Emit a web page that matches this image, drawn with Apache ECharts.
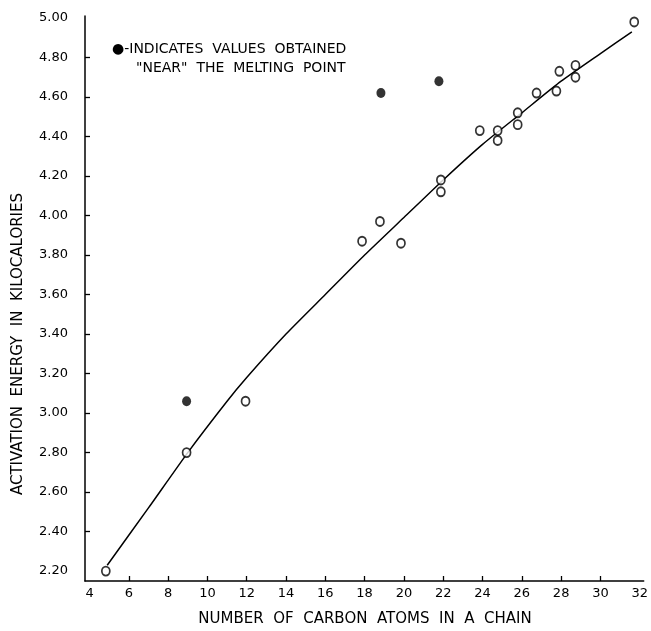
<!DOCTYPE html>
<html>
<head>
<meta charset="utf-8">
<script src="https://cdn.jsdelivr.net/npm/echarts@6/dist/echarts.min.js"></script>
<style>
  html, body { margin: 0; padding: 0; background: #fff; }
  #chart { width: 651px; height: 631px; }
</style>
</head>
<body>
<div id="chart"></div>
<script>
// 开口圆: 测得的活化能
const carbonOpen = [4.83, 8.94, 11.94, 17.87, 18.78, 19.85, 21.88, 21.88, 23.86, 24.77, 24.77, 25.79, 25.79, 26.75, 27.76, 27.91, 28.73, 28.73, 31.72];
const energyOpen = [2.20, 2.80, 3.06, 3.87, 3.97, 3.86, 4.18, 4.12, 4.43, 4.43, 4.38, 4.52, 4.46, 4.62, 4.63, 4.73, 4.76, 4.70, 4.98];

// 实心点: 熔点附近的值
const carbonNear = [8.94, 18.83, 21.78];
const energyNear = [3.06, 4.62, 4.68];

// 拟合曲线
const curveCarbon = [4.9, 7, 9, 11, 12, 14, 16, 18, 20, 22, 24, 26, 28, 30, 31.6];
const curveEnergy = [2.23, 2.52, 2.80, 3.06, 3.18, 3.40, 3.60, 3.80, 3.99, 4.18, 4.36, 4.52, 4.68, 4.82, 4.93];

// 刻度
const xTicks = [4, 6, 8, 10, 12, 14, 16, 18, 20, 22, 24, 26, 28, 30, 32];
const yTicks = [2.2, 2.4, 2.6, 2.8, 3.0, 3.2, 3.4, 3.6, 3.8, 4.0, 4.2, 4.4, 4.6, 4.8, 5.0];

const zip = (a, b) => a.map((v, i) => [v, b[i]]);
const font = 'DejaVu Sans';

let chart = echarts.init(document.getElementById('chart'));

let option = {
    backgroundColor: '#fff',
    animation: false,
    grid: { left: 85, right: 6, top: 16, bottom: 50 },
    xAxis: {
        type: 'value',
        min: 3.77,
        max: 32.2,
        splitLine: { show: false },
        axisLine: { lineStyle: { color: '#000', width: 1.5 } },
        axisTick: {
            inside: true, length: 5,
            customValues: xTicks.slice(1, -1),
            lineStyle: { color: '#000', width: 1.3 }
        },
        axisLabel: {
            customValues: xTicks,
            margin: 6,
            color: '#000',
            fontFamily: font,
            fontSize: 13
        }
    },
    yAxis: {
        type: 'value',
        min: 2.15,
        max: 5.01,
        splitLine: { show: false },
        axisLine: { show: true, lineStyle: { color: '#000', width: 1.5 } },
        axisTick: {
            show: true, inside: true, length: 5,
            customValues: yTicks.slice(1, -1),
            lineStyle: { color: '#000', width: 1.3 }
        },
        axisLabel: {
            customValues: yTicks,
            margin: 17,
            color: '#000',
            fontFamily: font,
            fontSize: 13,
            formatter: v => v.toFixed(2)
        }
    },
    graphic: [
        {
            type: 'text', left: 112, top: 42,
            style: { text: '●-INDICATES  VALUES  OBTAINED', font: '14px "DejaVu Sans"', fill: '#000' }
        },
        {
            type: 'text', left: 136, top: 61,
            style: { text: '"NEAR"  THE  MELTING  POINT', font: '14px "DejaVu Sans"', fill: '#000' }
        },
        {
            type: 'text', x: 365, y: 619,
            style: {
                text: 'NUMBER  OF  CARBON  ATOMS  IN  A  CHAIN',
                font: '15px "DejaVu Sans"', fill: '#000',
                align: 'center', verticalAlign: 'middle'
            }
        },
        {
            type: 'text', x: 18, y: 344, rotation: Math.PI / 2,
            style: {
                text: 'ACTIVATION  ENERGY  IN  KILOCALORIES',
                font: '15px "DejaVu Sans"', fill: '#000',
                align: 'center', verticalAlign: 'middle'
            }
        }
    ],
    series: [
        {
            type: 'line',
            data: zip(curveCarbon, curveEnergy),
            smooth: 0.2,
            showSymbol: false,
            lineStyle: { color: '#000', width: 1.5 },
            z: 1
        },
        {
            type: 'scatter',
            data: zip(carbonOpen, energyOpen),
            symbol: 'circle',
            symbolSize: [8, 9],
            itemStyle: { color: '#fff', borderColor: '#000', borderWidth: 1.8 },
            z: 3
        },
        {
            type: 'scatter',
            data: zip(carbonNear, energyNear),
            symbol: 'circle',
            symbolSize: [9, 10],
            itemStyle: { color: '#000' },
            z: 3
        }
    ]
};

chart.setOption(option);
</script>
</body>
</html>
